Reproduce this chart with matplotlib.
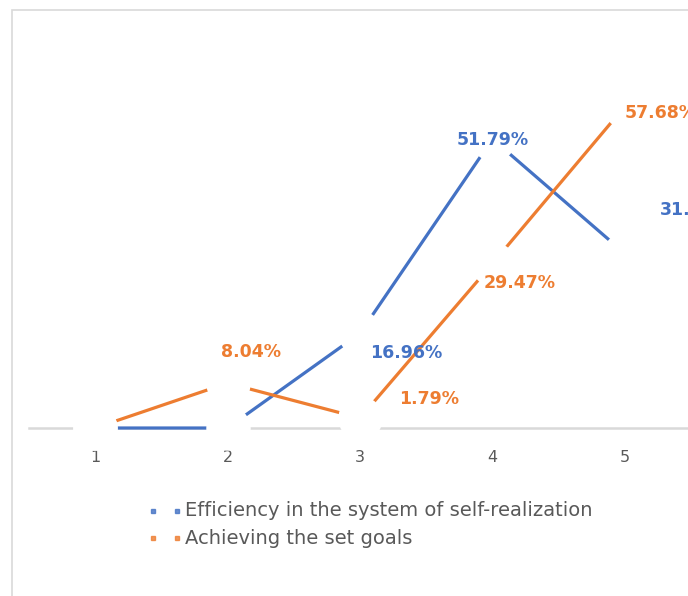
import matplotlib
matplotlib.use("Agg")
import matplotlib.pyplot as plt
from matplotlib.lines import Line2D
from matplotlib.patches import Rectangle

# chart data (percent)
categories = [1, 2, 3, 4, 5]
efficiency = [0, 0, 16.96, 51.79, 31.25]
goals = [0, 8.04, 1.79, 29.47, 57.68]
series_names = ["Efficiency in the system of self-realization",
                "Achieving the set goals"]

BLUE = "#4472C4"
ORANGE = "#ED7D31"
GRAY = "#595959"
LIGHT = "#D9D9D9"

W, H = 688, 596
fig = plt.figure(figsize=(W / 100, H / 100), dpi=100)

# outer chart frame (cut off on the right / bottom like the source)
fig.add_artist(Rectangle((12 / W, -0.1), 2, 1 - 10 / H + 0.1, fill=False,
                         edgecolor=LIGHT, lw=1.2, transform=fig.transFigure))

# axes: one category = 132.5 px, 1 % = 5.58 px
ax = fig.add_axes([28.75 / W, (H - 428) / H, 795 / W, 60 * 5.58 / H])
ax.set_xlim(0.5, 6.5)
ax.set_ylim(0, 60)
for s in ax.spines.values():
    s.set_visible(False)
ax.set_yticks([])
ax.set_xticks(categories)
ax.tick_params(axis="x", length=0, pad=16, labelsize=11.5, labelcolor=GRAY)

ax.axhline(0, color=LIGHT, lw=1.8, zorder=1, clip_on=False)
ax.plot(categories, efficiency, color=BLUE, lw=2.3, zorder=2,
        solid_capstyle="butt", clip_on=False)
ax.plot(categories, goals, color=ORANGE, lw=2.3, zorder=2,
        solid_capstyle="butt", clip_on=False)

# white "markers" that leave gaps around each point
ax.plot(categories, efficiency, ls="none", marker="o", ms=32, mfc="white",
        mec="none", zorder=3, clip_on=False)
ax.plot(categories, goals, ls="none", marker="o", ms=32, mfc="white",
        mec="none", zorder=3, clip_on=False)

# label offsets in px (left edge, vertical centre; y down)
blue_off = [None, None, (10, 20), (-36, 1), (35, -44)]
orange_off = [None, (-6, -31), (39, -19), (-9, 19), (0, 7)]

for vals, offs, col in [(efficiency, blue_off, BLUE), (goals, orange_off, ORANGE)]:
    for x, v, off in zip(categories, vals, offs):
        if off is None:
            continue
        ax.annotate(f"{v:.2f}%", (x, v), xytext=(off[0] * 0.72, -off[1] * 0.72),
                    textcoords="offset points", ha="left", va="center",
                    color=col, fontsize=12.5, fontweight="bold", zorder=4,
                    annotation_clip=False)

# legend drawn by hand
for name, col, ypx in [(series_names[0], BLUE, 511), (series_names[1], ORANGE, 538)]:
    y = 1 - ypx / H
    for xpx in (153, 177):
        fig.add_artist(Line2D([xpx / W], [y], ls="none", marker="s", ms=2.6,
                              color=col, alpha=0.8, transform=fig.transFigure))
    fig.text(185 / W, y, name, color=GRAY, fontsize=14, va="center", ha="left")

fig.savefig("out.png", dpi=100)
